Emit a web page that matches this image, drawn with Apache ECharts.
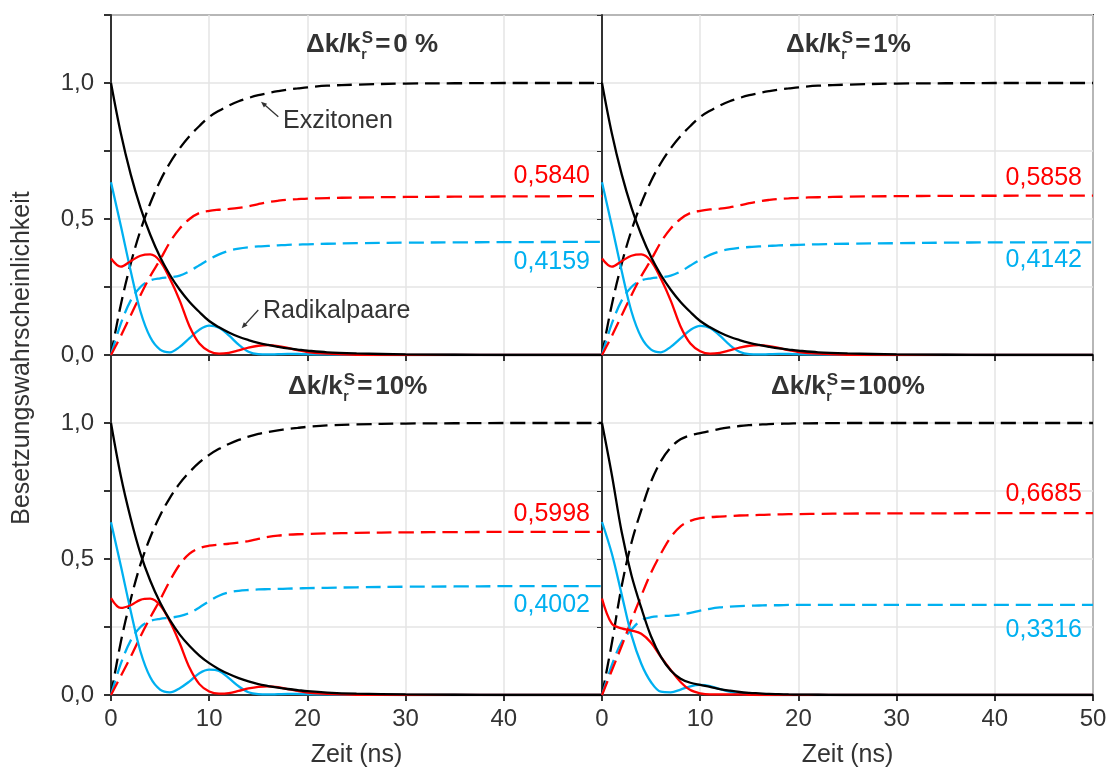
<!DOCTYPE html>
<html>
<head>
<meta charset="utf-8">
<script src="https://cdn.jsdelivr.net/npm/echarts@6/dist/echarts.min.js"></script>
<style>
html,body{margin:0;padding:0;background:#fff;}
#chart{width:1110px;height:767px;}
</style>
</head>
<body>
<div id="chart"></div>
<script>
// ---------- DATA ----------
const time = [0,1,2,3,4,5,6,7,8,9,10,11,12,13,14,15,16,17,18,19,20,22,25,30,35,40,50];
const xTicks = [0,10,20,30,40,50];
const yTickLabels = {0:'0,0', 0.5:'0,5', 1:'1,0'};
const panelTitles = ['0 %','1%','10%','100%'];
const redFinalLabels = ['0,5840','0,5858','0,5998','0,6685'];
const blueFinalLabels = ['0,4159','0,4142','0,4002','0,3316'];

// Panel 1: Δk/k = 0 %
const radTotal0 = [1.0,0.815,0.665,0.542,0.442,0.36,0.294,0.24,0.195,0.158,0.125,0.102,0.083,0.067,0.055,0.045,0.037,0.03,0.024,0.02,0.016,0.01,0.006,0.002,0.001,0,0];
const excTotal0 = [0,0.185,0.335,0.458,0.558,0.64,0.706,0.76,0.805,0.842,0.875,0.898,0.917,0.933,0.945,0.955,0.963,0.97,0.976,0.98,0.984,0.99,0.994,0.998,0.999,1,1];
const radSinglet0 = [0.635,0.475,0.31,0.16,0.065,0.02,0.01,0.03,0.062,0.093,0.108,0.1,0.072,0.038,0.012,0.003,0.002,0.003,0.004,0.004,0.003,0.002,0.001,0,0,0,0];
const radTriplet0 = [0.355,0.325,0.345,0.365,0.37,0.345,0.28,0.2,0.105,0.042,0.014,0.005,0.008,0.017,0.027,0.034,0.036,0.033,0.026,0.018,0.011,0.005,0.001,0,0,0,0];
const excTriplet0 = [0,0.07,0.145,0.22,0.29,0.35,0.415,0.465,0.5,0.522,0.53,0.534,0.537,0.541,0.547,0.555,0.562,0.567,0.571,0.573,0.575,0.577,0.579,0.581,0.582,0.583,0.584];
const excSinglet0 = [0,0.115,0.2,0.25,0.274,0.282,0.286,0.292,0.308,0.33,0.352,0.37,0.383,0.391,0.396,0.399,0.401,0.403,0.405,0.406,0.407,0.409,0.411,0.413,0.414,0.415,0.4159];

// Panel 2: Δk/k = 1 %
const radTotal1 = [1.0,0.815,0.665,0.542,0.442,0.36,0.294,0.24,0.195,0.158,0.125,0.102,0.083,0.067,0.055,0.045,0.037,0.03,0.024,0.02,0.016,0.01,0.006,0.002,0.001,0,0];
const excTotal1 = [0,0.185,0.335,0.458,0.558,0.64,0.706,0.76,0.805,0.842,0.875,0.898,0.917,0.933,0.945,0.955,0.963,0.97,0.976,0.98,0.984,0.99,0.994,0.998,0.999,1,1];
const radSinglet1 = [0.635,0.475,0.31,0.16,0.065,0.02,0.01,0.03,0.061,0.092,0.107,0.099,0.071,0.037,0.012,0.003,0.002,0.003,0.004,0.004,0.003,0.002,0.001,0,0,0,0];
const radTriplet1 = [0.355,0.325,0.345,0.365,0.37,0.345,0.28,0.2,0.105,0.042,0.014,0.005,0.008,0.017,0.027,0.034,0.036,0.033,0.026,0.018,0.011,0.005,0.001,0,0,0,0];
const excTriplet1 = [0,0.07,0.145,0.22,0.29,0.35,0.415,0.465,0.5,0.522,0.53,0.535,0.538,0.543,0.55,0.558,0.565,0.57,0.574,0.576,0.578,0.58,0.582,0.584,0.585,0.5855,0.5858];
const excSinglet1 = [0,0.115,0.2,0.25,0.274,0.282,0.286,0.292,0.307,0.329,0.35,0.368,0.381,0.389,0.394,0.397,0.399,0.401,0.403,0.404,0.405,0.407,0.409,0.411,0.413,0.414,0.4142];

// Panel 3: Δk/k = 10 %
const radTotal2 = [1,0.805,0.65,0.52,0.42,0.34,0.275,0.222,0.18,0.145,0.117,0.095,0.077,0.062,0.05,0.04,0.033,0.027,0.022,0.018,0.014,0.009,0.005,0.002,0.001,0,0];
const excTotal2 = [0,0.195,0.35,0.48,0.58,0.66,0.725,0.778,0.82,0.855,0.883,0.905,0.923,0.938,0.95,0.96,0.967,0.973,0.978,0.982,0.986,0.991,0.995,0.998,0.999,1,1];
const radSinglet2 = [0.635,0.475,0.31,0.16,0.065,0.02,0.01,0.025,0.05,0.08,0.093,0.088,0.062,0.032,0.01,0.003,0.002,0.003,0.004,0.004,0.003,0.002,0.001,0,0,0,0];
const radTriplet2 = [0.356,0.32,0.33,0.35,0.354,0.33,0.27,0.19,0.1,0.04,0.013,0.005,0.007,0.015,0.024,0.03,0.032,0.029,0.022,0.015,0.009,0.004,0.001,0,0,0,0];
const excTriplet2 = [0,0.07,0.14,0.215,0.285,0.35,0.42,0.48,0.52,0.54,0.549,0.553,0.556,0.56,0.566,0.574,0.581,0.586,0.589,0.591,0.592,0.594,0.596,0.598,0.599,0.5995,0.5998];
const excSinglet2 = [0,0.115,0.2,0.25,0.272,0.28,0.284,0.29,0.302,0.322,0.345,0.365,0.377,0.383,0.386,0.388,0.389,0.39,0.391,0.392,0.393,0.394,0.396,0.398,0.399,0.4,0.4002];

// Panel 4: Δk/k = 100 %
const radTotal3 = [1,0.81,0.6,0.44,0.32,0.215,0.14,0.09,0.06,0.045,0.037,0.03,0.022,0.016,0.011,0.008,0.006,0.004,0.003,0.002,0.0015,0.001,0,0,0,0,0];
const excTotal3 = [0,0.19,0.4,0.56,0.68,0.785,0.86,0.91,0.94,0.955,0.963,0.97,0.978,0.984,0.989,0.992,0.994,0.996,0.997,0.998,0.9985,0.999,1,1,1,1,1];
const radSinglet3 = [0.636,0.52,0.37,0.22,0.115,0.047,0.012,0.01,0.02,0.032,0.037,0.033,0.022,0.012,0.005,0.002,0.001,0,0,0,0,0,0,0,0,0,0];
const radTriplet3 = [0.355,0.262,0.245,0.237,0.225,0.192,0.14,0.092,0.048,0.018,0.006,0.002,0.002,0.002,0.002,0.001,0,0,0,0,0,0,0,0,0,0,0];
const excTriplet3 = [0,0.09,0.18,0.275,0.365,0.45,0.52,0.58,0.62,0.64,0.65,0.654,0.656,0.658,0.66,0.661,0.662,0.663,0.664,0.665,0.665,0.666,0.667,0.668,0.668,0.6685,0.6685];
const excSinglet3 = [0,0.11,0.195,0.24,0.275,0.286,0.29,0.292,0.296,0.302,0.31,0.317,0.322,0.325,0.327,0.328,0.329,0.33,0.33,0.331,0.331,0.331,0.3313,0.3315,0.3316,0.3316,0.3316];

const panels = [
  {radTotal: radTotal0, excTotal: excTotal0, radS: radSinglet0, radT: radTriplet0, excT: excTriplet0, excS: excSinglet0},
  {radTotal: radTotal1, excTotal: excTotal1, radS: radSinglet1, radT: radTriplet1, excT: excTriplet1, excS: excSinglet1},
  {radTotal: radTotal2, excTotal: excTotal2, radS: radSinglet2, radT: radTriplet2, excT: excTriplet2, excS: excSinglet2},
  {radTotal: radTotal3, excTotal: excTotal3, radS: radSinglet3, radT: radTriplet3, excT: excTriplet3, excS: excSinglet3}
];

// ---------- STYLE / LAYOUT ----------
const FONT = '"Liberation Sans", Arial, sans-serif';
const TXT = '#333333';
const RED = '#ff0000';
const BLUE = '#00b0f0';
const BLACK = '#000000';
const GRIDC = '#e4e4e4';
const gridPos = [
  {left:111, top:15, width:491, height:340},
  {left:602, top:15, width:491, height:340},
  {left:111, top:355, width:491, height:340},
  {left:602, top:355, width:491, height:340}
];

const grids = [], xAxes = [], yAxes = [], series = [];
gridPos.forEach((g, i) => {
  grids.push(Object.assign({show:true, borderColor:'#333', borderWidth:2, backgroundColor:'transparent',
    containLabel:false, outerBoundsMode:'none'}, g));
  const bottom = i >= 2;
  const leftCol = (i % 2) === 0;
  xAxes.push({
    type:'value', gridIndex:i, min:0, max:50, interval:10,
    axisLine:{show:true, lineStyle:{color:'#333', width:2}},
    axisTick:{show:true, inside:false, length:6, lineStyle:{color:'#333', width:2}},
    axisLabel:{show:bottom, margin:12, color:TXT, fontSize:24, fontFamily:FONT,
      formatter: v => (leftCol && v === 50) ? '' : String(v)},
    splitLine:{show:true, lineStyle:{color:GRIDC, width:1.5}},
    name: bottom ? 'Zeit (ns)' : '', nameLocation:'middle', nameGap:48,
    nameTextStyle:{color:TXT, fontSize:25, fontFamily:FONT}
  });
  yAxes.push({
    type:'value', gridIndex:i, min:0, max:1.25, interval:0.25,
    axisLine:{show:true, lineStyle:{color:'#333', width:2}},
    axisTick:{show:true, inside:false, length: leftCol ? 7 : 5, lineStyle:{color:'#333', width: leftCol ? 2 : 1}},
    axisLabel:{show:leftCol, margin:17, color:TXT, fontSize:24, fontFamily:FONT,
      formatter: v => (yTickLabels[v] !== undefined ? yTickLabels[v] : '')},
    splitLine:{show:true, lineStyle:{color:GRIDC, width:1.5}}
  });
  const p = panels[i];
  const pair = arr => time.map((t, k) => [t, arr[k]]);
  const mk = (arr, color, dashed) => ({
    type:'line', xAxisIndex:i, yAxisIndex:i, data:pair(arr), showSymbol:false, symbol:'none',
    smooth:0.35, silent:true,
    lineStyle:{color:color, width:2.3, type: dashed ? [15,7] : 'solid'}
  });
  series.push(mk(p.excTotal, BLACK, true));
  series.push(mk(p.excS, BLUE, true));
  series.push(mk(p.excT, RED, true));
  series.push(mk(p.radS, BLUE, false));
  series.push(mk(p.radT, RED, false));
  series.push(mk(p.radTotal, BLACK, false));
});

// ---------- ANNOTATIONS ----------
const ctx = document.createElement('canvas').getContext('2d');
function tw(text, font){ ctx.font = font; return ctx.measureText(text).width; }
const graphics = [];
function txt(x, y, text, size, color, opts){
  opts = opts || {};
  const font = (opts.bold ? 'bold ' : '') + size + 'px ' + FONT;
  return {type:'text', x:x, y:y, rotation: opts.rotation || 0, silent:true, z:100,
    style:{text:text, font:font, fill:color,
      align: opts.align || 'left', textAlign: opts.align || 'left',
      verticalAlign: opts.va || 'middle', textVerticalAlign: opts.va || 'middle'}};
}
const titlePos = [[306,45],[786,45],[288,387],[771,387]];
titlePos.forEach((tp, i) => {
  const x0 = tp[0], ym = tp[1];
  const mainF = 'bold 26px ' + FONT;
  const wMain = tw('\u0394k/k', mainF);
  const wS = tw('S', 'bold 17px ' + FONT);
  const wr = tw('r', 'bold 14px ' + FONT);
  graphics.push(txt(x0, ym, '\u0394k/k', 26, TXT, {bold:true}));
  graphics.push(txt(x0 + wMain + 1, ym - 7, 'S', 17, TXT, {bold:true}));
  graphics.push(txt(x0 + wMain + 0.5, ym + 10, 'r', 14, TXT, {bold:true}));
  const xe = x0 + wMain + Math.max(wS, wr) + 3;
  graphics.push(txt(xe, ym, '=', 26, TXT, {bold:true}));
  const xv = xe + tw('=', mainF) + 3;
  graphics.push(txt(xv, ym, panelTitles[i], 26, TXT, {bold:true}));
});
const valPos = [[590,176,262],[1082,178,260],[590,514,605],[1082,494,630]];
valPos.forEach((vp, i) => {
  graphics.push(txt(vp[0], vp[1], redFinalLabels[i], 25, RED, {align:'right'}));
  graphics.push(txt(vp[0], vp[2], blueFinalLabels[i], 25, BLUE, {align:'right'}));
});
graphics.push(txt(283, 121, 'Exzitonen', 25, TXT));
graphics.push(txt(263, 311, 'Radikalpaare', 25, TXT));
// arrows
graphics.push({type:'line', silent:true, z:100, shape:{x1:278.3, y1:116.7, x2:264, y2:104.3}, style:{stroke:'#333', lineWidth:1.3}});
graphics.push({type:'polygon', silent:true, z:100, shape:{points:[[261,101.7],[267.1,103.7],[263.9,107.5]]}, style:{fill:'#333'}});
graphics.push({type:'line', silent:true, z:100, shape:{x1:258.3, y1:310, x2:244.3, y2:325.4}, style:{stroke:'#333', lineWidth:1.3}});
graphics.push({type:'polygon', silent:true, z:100, shape:{points:[[241.7,328.3],[247.6,325.6],[243.8,322.2]]}, style:{fill:'#333'}});
// y axis name
graphics.push(txt(22, 358, 'Besetzungswahrscheinlichkeit', 25, TXT, {align:'center', rotation:Math.PI/2}));

const chart = echarts.init(document.getElementById('chart'), null, {renderer:'canvas'});
chart.setOption({
  animation:false,
  backgroundColor:'#ffffff',
  grid:grids, xAxis:xAxes, yAxis:yAxes, series:series, graphic:graphics
});
</script>
</body>
</html>
